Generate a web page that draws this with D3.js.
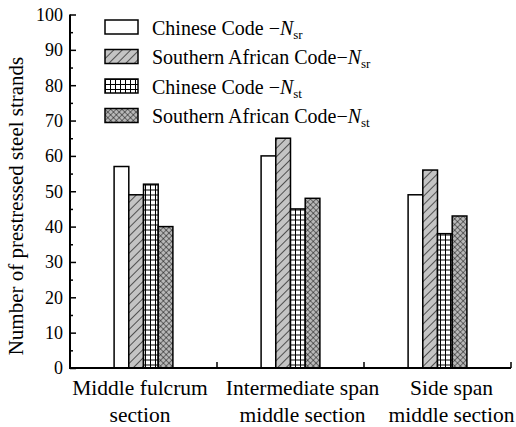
<!DOCTYPE html>
<html>
<head>
<meta charset="utf-8">
<script src="https://cdn.jsdelivr.net/npm/d3@7"></script>
<style>
  body { margin: 0; background: #fff; }
</style>
</head>
<body>
<div id="chart"></div>
<script>
// data
const categories = [["Middle fulcrum", "section"], ["Intermediate span", "middle section"], ["Side span", "middle section"]];
const seriesNames = [
  { pre: "Chinese Code \u2212", sub: "sr" },
  { pre: "Southern African Code\u2212", sub: "sr" },
  { pre: "Chinese Code \u2212", sub: "st" },
  { pre: "Southern African Code\u2212", sub: "st" }
];
const chineseSr = [57, 60, 49];
const africanSr = [49, 65, 56];
const chineseSt = [52, 45, 38];
const africanSt = [40, 48, 43];
const yTicks = [0, 10, 20, 30, 40, 50, 60, 70, 80, 90, 100];

const series = [chineseSr, africanSr, chineseSt, africanSt];
const patterns = ["p-white", "p-diag", "p-grid", "p-cross"];
const FONT = "'Liberation Serif', 'Times New Roman', 'DejaVu Serif', serif";

const W = 516, H = 427;
const margin = { top: 14.5, right: 5, bottom: 59, left: 70 };
const width = 511 - margin.left;
const height = 368 - margin.top;

const svg = d3.select("#chart").append("svg")
  .attr("width", W).attr("height", H)
  .attr("font-family", FONT);

// hatch fills
const defs = svg.append("defs");

let p = defs.append("pattern").attr("id", "p-diag")
  .attr("patternUnits", "userSpaceOnUse").attr("width", 6).attr("height", 6)
  .attr("patternTransform", "rotate(45)");
p.append("rect").attr("width", 6).attr("height", 6).attr("fill", "#c4c4c4");
p.append("line").attr("x1", 0).attr("y1", 0).attr("x2", 0).attr("y2", 6)
  .attr("stroke", "#000").attr("stroke-width", 1.2);

p = defs.append("pattern").attr("id", "p-grid")
  .attr("patternUnits", "userSpaceOnUse").attr("width", 5).attr("height", 5);
p.append("rect").attr("width", 5).attr("height", 5).attr("fill", "#fff");
p.append("path").attr("d", "M0,0.5H5M0.5,0V5").attr("stroke", "#000").attr("stroke-width", 1);

p = defs.append("pattern").attr("id", "p-cross")
  .attr("patternUnits", "userSpaceOnUse").attr("width", 4).attr("height", 4)
  .attr("patternTransform", "rotate(45)");
p.append("rect").attr("width", 4).attr("height", 4).attr("fill", "#b8b8b8");
p.append("path").attr("d", "M0,0H4M0,0V4").attr("stroke", "#000").attr("stroke-width", 0.9);

const fillOf = id => id === "p-white" ? "#fff" : "url(#" + id + ")";

const g = svg.append("g")
  .attr("transform", "translate(" + margin.left + "," + margin.top + ")");

const x0 = d3.scaleBand()
  .domain(d3.range(categories.length))
  .range([0, width])
  .padding(0);

const x1 = d3.scaleBand()
  .domain(d3.range(series.length))
  .range([x0.bandwidth() * 0.3, x0.bandwidth() * 0.7]);

const y = d3.scaleLinear().domain([0, 100]).range([height, 0]);

// bars
series.forEach((vals, si) => {
  g.selectAll(".bar-" + si)
    .data(vals)
    .enter().append("rect")
    .attr("class", "bar-" + si)
    .attr("x", (d, i) => x0(i) + x1(si))
    .attr("y", d => y(d))
    .attr("width", x1.bandwidth())
    .attr("height", d => y(0) - y(d))
    .attr("fill", fillOf(patterns[si]))
    .attr("stroke", "#000")
    .attr("stroke-width", 1.5);
});

// y axis, ticks inward
const yAxis = d3.axisRight(y).tickValues(yTicks).tickSize(6).tickFormat("");
const yMinor = d3.axisRight(y).tickValues(d3.range(5, 100, 10)).tickSize(3).tickFormat("");
g.append("g").attr("class", "axis").call(yAxis);
g.append("g").attr("class", "axis").call(yMinor);
g.selectAll(".axis .domain").remove();
g.selectAll(".axis line").attr("stroke", "#000").attr("stroke-width", 1.5);

g.selectAll(".ylab")
  .data(yTicks)
  .enter().append("text")
  .attr("class", "ylab")
  .attr("x", -7)
  .attr("y", d => y(d))
  .attr("dy", "0.35em")
  .attr("text-anchor", "end")
  .attr("font-size", 18)
  .text(d => d);

// x axis, boundary ticks point up
const xb = d3.scaleLinear().domain([0, categories.length]).range([0, width]);
g.selectAll(".xtick")
  .data(d3.range(1, categories.length + 1))
  .enter().append("line")
  .attr("x1", d => xb(d)).attr("x2", d => xb(d))
  .attr("y1", height).attr("y2", height - 6)
  .attr("stroke", "#000").attr("stroke-width", 1.5);

g.append("path")
  .attr("d", "M0," + y(100) + "V" + height + "H" + width)
  .attr("fill", "none").attr("stroke", "#000").attr("stroke-width", 2);

// category labels sit slightly off their band centres in the original
const labelShift = [-3.5, 12, 14];
const cl = g.selectAll(".xlab")
  .data(categories)
  .enter().append("text")
  .attr("class", "xlab")
  .attr("text-anchor", "middle")
  .attr("font-size", 21.5)
  .attr("transform", (d, i) => "translate(" + (x0(i) + x0.bandwidth() / 2 + labelShift[i]) + "," + (height + 27) + ")");
cl.selectAll("tspan")
  .data(d => d)
  .enter().append("tspan")
  .attr("x", 0)
  .attr("dy", (d, i) => i === 0 ? 0 : 27)
  .text(d => d);

// y title
svg.append("text")
  .attr("transform", "translate(23,206) rotate(-90)")
  .attr("text-anchor", "middle")
  .attr("font-size", 21)
  .text("Number of prestressed steel strands");

// legend
const leg = svg.append("g").attr("transform", "translate(105,20)");
const row = leg.selectAll(".leg")
  .data(seriesNames)
  .enter().append("g")
  .attr("transform", (d, i) => "translate(0," + i * 29.5 + ")");
row.append("rect")
  .attr("width", 33).attr("height", 14)
  .attr("fill", (d, i) => fillOf(patterns[i]))
  .attr("stroke", "#000").attr("stroke-width", 1.5);
const lt = row.append("text")
  .attr("x", 47).attr("y", 14.5)
  .attr("font-size", 20);
lt.append("tspan").text(d => d.pre);
lt.append("tspan").attr("font-style", "italic").text("N");
lt.append("tspan").attr("dy", 4).attr("font-size", 13).text(d => d.sub);
</script>
</body>
</html>
